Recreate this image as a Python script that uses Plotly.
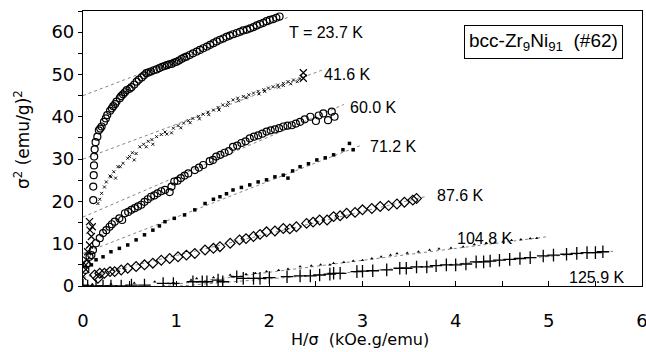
import plotly.graph_objects as go

# ---- data ----
labels = ["T = 23.7 K", "41.6 K", "60.0 K", "71.2 K", "87.6 K", "104.8 K", "125.9 K"]

s1_x = [0.11, 0.11, 0.115, 0.118, 0.12, 0.125, 0.135, 0.154, 0.17, 0.2, 0.225, 0.26, 0.29, 0.325, 0.36, 0.395, 0.43, 0.47, 0.52, 0.576, 0.63, 0.68, 0.73, 0.79, 0.85, 0.9, 0.95, 1.005, 1.06, 1.11, 1.18, 1.255, 1.33, 1.4, 1.47, 1.54, 1.61, 1.685, 1.76, 1.83, 1.9, 1.97, 2.04, 2.11,
        0.185, 0.245, 0.31, 0.345, 0.41, 0.45, 0.5, 0.55, 0.6, 0.655, 0.705, 0.76, 0.82, 0.875, 0.925, 0.98, 1.03, 1.085, 1.145, 1.22, 1.29, 1.365, 1.435, 1.505, 1.575, 1.65, 1.72, 1.795, 1.865, 1.935, 2.005, 2.075]
s1_y = [20.3, 23.5, 26.2, 28.5, 30.6, 32.3, 34.0, 35.3, 36.8, 37.7, 38.8, 40.4, 41.4, 42.5, 43.6, 44.4, 45.3, 46.3, 47.0, 48.3, 49.3, 50.3, 50.7, 51.2, 51.8, 52.2, 52.5, 53.0, 53.7, 54.2, 55.0, 55.8, 56.6, 57.4, 58.2, 58.9, 59.5, 60.1, 60.6, 61.2, 61.9, 62.6, 63.1, 63.7,
        37.2, 39.6, 42.0, 43.0, 44.9, 45.8, 46.6, 47.6, 48.8, 49.8, 50.5, 51.0, 51.5, 52.0, 52.4, 52.8, 53.3, 54.0, 54.6, 55.4, 56.2, 57.0, 57.8, 58.5, 59.2, 59.8, 60.4, 60.9, 61.6, 62.2, 62.9, 63.4]

s2a_x = [0.0, 0.03, 0.03, 0.04, 0.05, 0.07, 0.09, 0.075, 0.07, 0.1, 2.365, 2.365]
s2a_y = [2.2, 3.9, 5.0, 6.1, 8.1, 9.7, 11.7, 13.2, 15.2, 14.0, 50.4, 49.1]
s2b_x = [0.16, 0.2, 0.23, 0.29, 0.3, 0.375, 0.4, 0.48, 0.5, 0.61, 0.7, 0.79, 0.88, 0.97, 1.08, 1.18, 1.29, 1.4, 1.5, 1.61, 1.72, 1.83, 1.94, 2.04, 2.15, 2.26,
         0.35, 0.55, 0.75, 0.95, 1.15, 1.35, 1.55, 1.75, 1.95, 2.15, 2.3,
         0.18, 0.25, 0.33, 0.43, 0.53, 0.57, 0.65, 0.68, 0.74, 0.84, 0.9, 1.02, 1.05, 1.13, 1.24, 1.25, 1.34, 1.45, 1.46, 1.56, 1.66, 1.67, 1.78, 1.88, 1.89, 1.99, 2.09, 2.1, 2.2, 2.23, 2.33]
s2b_y = [19.5, 21.9, 23.4, 26.0, 25.8, 28.2, 28.2, 30.2, 30.6, 32.9, 34.2, 35.3, 36.4, 37.3, 38.5, 39.6, 40.6, 41.6, 42.8, 44.0, 44.8, 45.6, 46.4, 47.1, 47.9, 48.7,
         25.5, 29.8, 33.5, 36.2, 38.6, 40.5, 42.7, 44.5, 46.0, 47.4, 48.3,
         20.5, 24.6, 27.0, 29.0, 31.5, 31.3, 33.5, 32.9, 34.6, 35.8, 35.9, 37.9, 37.4, 39.1, 40.1, 39.5, 41.1, 42.2, 41.6, 43.4, 44.4, 43.8, 45.2, 46.0, 45.4, 46.8, 47.5, 47.0, 48.3, 47.8, 49.0]

s3_x = [0.025, 0.04, 0.07, 0.09, 0.107, 0.14, 0.18, 0.215, 0.25, 0.285, 0.34, 0.39, 0.42, 0.45, 0.52, 0.59, 0.66, 0.73, 0.8, 0.88, 0.95, 0.93, 0.98, 1.05, 1.13, 1.2, 1.29, 1.36, 1.43, 1.52, 1.61, 1.7, 1.79, 1.88, 1.97, 2.06, 2.15, 2.24, 2.33, 2.44, 2.5, 2.58, 2.63, 2.67, 2.7,
        0.31, 0.485, 0.555, 0.625, 0.695, 0.765, 0.84, 1.015, 1.09, 1.245, 1.395, 1.475, 1.565, 1.655, 1.745, 1.835, 1.925, 2.015, 2.105, 2.195, 2.285, 2.38, 2.53]
s3_y = [3.8, 5.2, 6.9, 7.3, 8.5, 10.1, 11.3, 12.5, 13.2, 14.0, 15.2, 16.0, 15.6, 17.2, 18.0, 18.8, 19.9, 21.1, 21.9, 22.7, 23.5, 22.2, 24.7, 25.5, 26.6, 27.4, 28.6, 29.5, 30.6, 31.5, 32.9, 33.8, 34.9, 35.6, 36.5, 37.0, 37.7, 38.0, 38.8, 40.0, 39.0, 40.8, 39.2, 41.2, 40.0,
        14.6, 17.5, 18.4, 19.2, 20.5, 21.4, 22.4, 24.9, 26.1, 28.0, 29.8, 31.0, 31.9, 33.2, 34.2, 35.3, 36.0, 36.8, 37.3, 37.9, 38.4, 39.4, 40.3]

s4_x = [0.09, 0.14, 0.215, 0.3, 0.39, 0.48, 0.57, 0.66, 0.75, 0.82, 0.88, 0.98, 1.09, 1.2, 1.31, 1.4, 1.47, 1.54, 1.61, 1.7, 1.79, 1.88, 1.97, 2.06, 2.15, 2.2, 2.25, 2.33, 2.42, 2.51, 2.6, 2.69, 2.79, 2.86, 2.9]
s4_y = [5.0, 6.2, 6.9, 8.1, 8.9, 9.7, 10.9, 12.1, 13.2, 14.2, 15.2, 16.0, 16.8, 18.0, 19.5, 20.5, 21.1, 21.8, 22.7, 23.3, 23.9, 24.6, 25.1, 25.8, 26.2, 25.5, 27.2, 28.2, 28.9, 29.8, 30.3, 31.0, 32.2, 33.7, 32.2]

s5_x = [0.125, 0.16, 0.18, 0.23, 0.29, 0.34, 0.41, 0.48, 0.57, 0.66, 0.75, 0.84, 0.93, 1.02, 1.11, 1.2, 1.31, 1.4, 1.47, 1.58, 1.68, 1.75, 1.83, 1.9, 1.97, 2.06, 2.15, 2.22, 2.29, 2.4, 2.47, 2.54, 2.62, 2.69, 2.76, 2.83, 2.92, 3.0, 3.1, 3.19, 3.28, 3.37, 3.45, 3.54, 3.58]
s5_y = [2.6, 1.8, 3.0, 3.0, 3.4, 3.4, 3.8, 4.2, 4.6, 5.0, 5.4, 6.1, 6.5, 6.9, 7.3, 7.7, 8.5, 8.9, 9.3, 10.1, 10.9, 11.2, 11.7, 12.2, 12.8, 13.0, 13.6, 13.5, 14.0, 14.8, 15.1, 15.6, 15.6, 16.4, 16.6, 17.2, 17.4, 18.0, 18.3, 18.8, 19.0, 19.4, 19.8, 20.3, 20.7]

s6_x = [0.1, 0.3, 0.55, 0.77, 0.97, 1.16, 1.22, 1.4, 1.58, 1.61, 1.75, 1.85, 1.97, 2.1, 2.2, 2.33, 2.45, 2.55, 2.65, 2.69, 2.8, 2.9, 3.0, 3.1, 3.2, 3.3, 3.37, 3.48, 3.6, 3.72, 3.82, 3.95, 4.08, 4.2, 4.33, 4.42, 4.51, 4.6, 4.7, 4.8, 4.87]
s6_y = [0.4, 0.5, 0.7, 1.0, 0.8, 1.4, 1.8, 2.0, 2.6, 2.2, 2.8, 3.0, 3.4, 3.7, 4.0, 4.6, 4.8, 5.0, 5.0, 5.4, 5.6, 5.9, 6.1, 6.5, 6.9, 7.3, 7.7, 7.8, 8.1, 8.5, 8.8, 9.0, 9.3, 9.8, 10.1, 10.3, 10.5, 10.8, 11.0, 11.2, 11.3]

s7_x = [0.0, 0.05, 0.14, 0.215, 0.3, 0.41, 0.52, 0.66, 0.86, 0.97, 1.18, 1.28, 1.33, 1.45, 1.5, 1.65, 1.72, 1.83, 1.9, 2.0, 2.19, 2.33, 2.44, 2.54, 2.65, 2.69, 2.76, 2.94, 3.0, 3.11, 3.26, 3.4, 3.47, 3.58, 3.69, 3.79, 3.9, 4.0, 4.11, 4.22, 4.3, 4.37, 4.47, 4.58, 4.69, 4.8, 4.94, 5.05, 5.19, 5.3, 5.41, 5.5, 5.58]
s7_y = [0.2, 0.0, 0.0, 0.0, 0.0, 0.0, 0.2, 0.2, 0.6, 0.6, 1.0, 1.0, 1.0, 1.4, 1.0, 2.2, 1.8, 1.8, 1.8, 2.0, 2.2, 2.4, 2.4, 2.6, 2.8, 3.0, 3.0, 3.4, 3.5, 3.6, 3.8, 4.2, 4.2, 4.5, 4.5, 4.8, 5.0, 5.0, 5.2, 5.7, 5.7, 5.9, 6.1, 6.3, 6.5, 6.7, 7.1, 7.3, 7.5, 7.7, 7.9, 7.9, 8.1]

# linear fit lines (end points)
fit_x0 = [0.0, 0.0, 0.0, 0.0, 0.0, 0.85, 1.04]
fit_y0 = [45.0, 30.0, 16.3, 7.7, 2.0, 0.0, 0.0]
fit_x1 = [2.2, 2.6, 2.8, 3.0, 3.67, 5.0, 5.69]
fit_y1 = [63.5, 51.3, 42.9, 33.4, 21.1, 11.7, 8.2]

# label anchor positions (left edge, vertical middle), data units
lab_x = [2.19, 2.56, 2.84, 3.06, 3.78, 3.99, 5.19]
lab_y = [60.0, 49.9, 42.3, 32.9, 21.5, 11.3, 2.1]

fig = go.Figure()

for i in range(7):
    fig.add_trace(go.Scatter(x=[fit_x0[i], fit_x1[i]], y=[fit_y0[i], fit_y1[i]], mode="lines",
                             line=dict(color="#666666", width=0.8, dash="dot"), hoverinfo="skip"))

def add(xs, ys, symbol, size, lw=1.0, color="black"):
    fig.add_trace(go.Scatter(x=xs, y=ys, mode="markers",
                             marker=dict(symbol=symbol, size=size, color=color,
                                         line=dict(color="black", width=lw))))

add(s1_x, s1_y, "circle-open", 7, 1.2)
add(s2a_x, s2a_y, "x-thin-open", 7, 1.2)
add(s2b_x, s2b_y, "x-thin-open", 3, 0.9)
add(s3_x, s3_y, "circle-open", 7, 1.2)
add(s4_x, s4_y, "square", 3.5, 0)
add(s5_x, s5_y, "diamond-open", 7.5, 1.2)
add(s6_x, s6_y, "triangle-up", 3, 0)
add(s7_x, s7_y, "cross-thin-open", 9, 1.3)

for i in range(7):
    fig.add_annotation(x=lab_x[i], y=lab_y[i], text=labels[i], showarrow=False,
                       xanchor="left", yanchor="middle",
                       font=dict(family="Liberation Sans, Arial", size=16, color="black"))

fig.add_annotation(x=4.94, y=57.7, text="bcc-Zr<sub>9</sub>Ni<sub>91</sub>  (#62)", showarrow=False,
                   xanchor="center", yanchor="middle", bordercolor="black", borderwidth=1,
                   borderpad=4, bgcolor="white",
                   font=dict(family="Liberation Sans, Arial", size=19, color="black"))

fig.add_annotation(xref="paper", yref="paper", x=0.4955, y=-0.193, text="H/σ  (kOe.g/emu)",
                   showarrow=False, xanchor="center", yanchor="middle",
                   font=dict(family="DejaVu Sans", size=16, color="black"))
fig.add_annotation(xref="paper", yref="paper", x=-0.109, y=0.531, text="σ<sup>2</sup> (emu/g)<sup>2</sup>",
                   showarrow=False, xanchor="center", yanchor="middle", textangle=-90,
                   font=dict(family="DejaVu Sans", size=17, color="black"))

fig.update_layout(
    width=646, height=352,
    margin=dict(l=83, r=4, t=11, b=66, autoexpand=False),
    paper_bgcolor="white", plot_bgcolor="white",
    showlegend=False,
    xaxis=dict(range=[0, 6], dtick=1, tick0=0, ticks="inside", ticklen=5, tickwidth=1,
               tickcolor="black", showline=True, linecolor="black", linewidth=1.2, mirror=True,
               showgrid=False, zeroline=False, ticklabelstandoff=18, ticklabeloverflow="allow",
               automargin=False,
               minor=dict(dtick=0.5, ticks="inside", ticklen=5, tickcolor="black", showgrid=False),
               tickfont=dict(family="DejaVu Sans", size=18, color="black")),
    yaxis=dict(range=[0, 65], dtick=10, tick0=0, ticks="outside", ticklen=4, tickwidth=1,
               tickcolor="black", showline=True, linecolor="black", linewidth=1.2, mirror=True,
               showgrid=False, zeroline=False, automargin=False,
               minor=dict(dtick=5, ticks="outside", ticklen=4, tickcolor="black", showgrid=False),
               tickfont=dict(family="DejaVu Sans", size=18, color="black")),
)

fig.write_html("out.html", config={"displayModeBar": False},
               post_script="document.body.style.margin='0';document.body.style.overflow='hidden';")
